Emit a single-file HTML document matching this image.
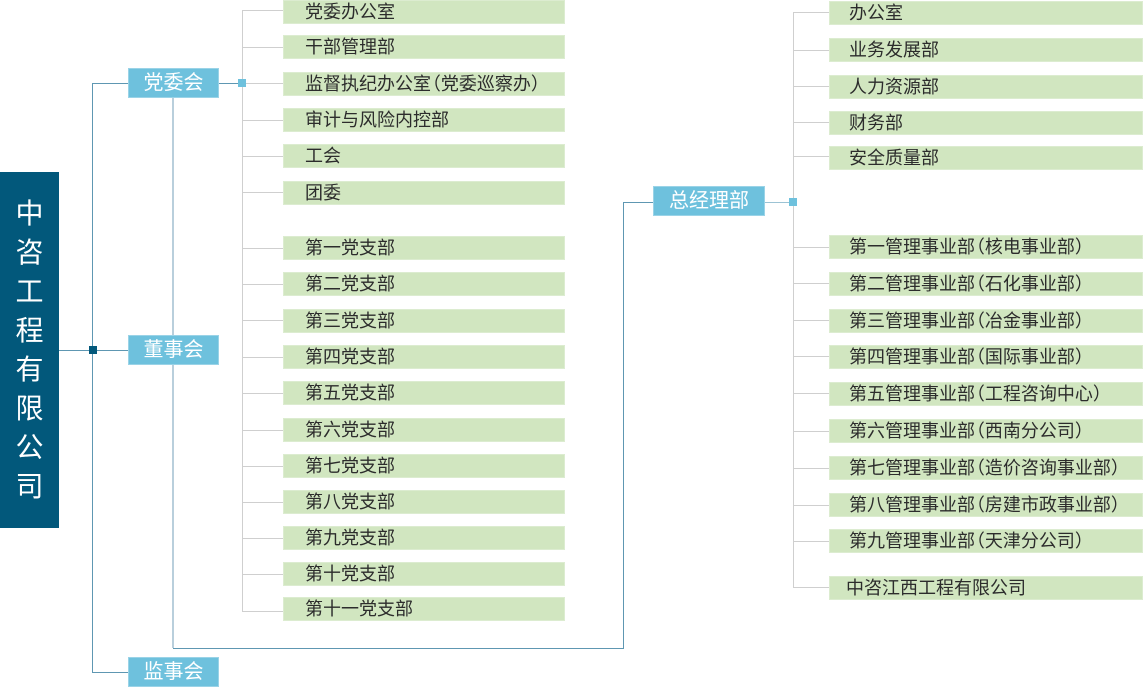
<!DOCTYPE html>
<html><head><meta charset="utf-8">
<style>
html,body{margin:0;padding:0;background:#fff;}
body{width:1143px;height:687px;position:relative;overflow:hidden;font-family:"Liberation Sans","Noto Sans CJK SC",sans-serif;}
.a{position:absolute;}
.root{left:0;top:172px;width:59px;height:356px;background:#02587b;color:#fff;font-size:28px;line-height:39px;text-align:center;}
.root div{height:39px;}
.bb{position:absolute;background:#6ec1dd;border:1px solid #9ad3e7;box-sizing:border-box;color:#fff;font-size:20px;text-align:center;line-height:28px;}
.g{position:absolute;height:24px;background:#d1e6c0;border:1px solid #dcecd0;box-sizing:border-box;color:#2c2c2c;font-size:18px;line-height:22px;white-space:nowrap;}
.m{left:283px;width:282px;padding-left:21px;}
.r{left:829px;width:314px;padding-left:19px;}
.l{position:absolute;}
.gv{background:#cfcfcf;width:1px;}
.gh{background:#cfcfcf;height:1px;}
.tv{background:#5e97b2;width:1px;}
.th{background:#5e97b2;height:1px;}
.pl{margin-left:-0.45em;}
.pr{margin-right:-0.45em;}
</style></head><body>

<!-- connectors -->
<div class="l th" style="left:59px;top:350px;width:69px;"></div>
<div class="l tv" style="left:92px;top:83px;height:590px;"></div>
<div class="l th" style="left:92px;top:83px;width:36px;"></div>
<div class="l th" style="left:92px;top:672px;width:36px;"></div>
<div class="l th" style="left:218px;top:83px;width:24px;"></div>
<div class="l" style="left:172px;top:98px;width:2px;height:550px;background:#b9cfdc;"></div>
<div class="l th" style="left:173px;top:648px;width:451px;"></div>
<div class="l tv" style="left:623px;top:202px;height:447px;"></div>
<div class="l th" style="left:623px;top:202px;width:30px;"></div>
<div class="l th" style="left:765px;top:202px;width:28px;background:#9cc3d4;"></div>

<!-- gray trees -->
<div class="l gv" style="left:242px;top:10px;height:601px;"></div>
<div class="l gv" style="left:793px;top:12px;height:575px;"></div>

<div class="l gh" style="left:242px;top:10px;width:41px;"></div>
<div class="l gh" style="left:242px;top:47px;width:41px;"></div>
<div class="l gh" style="left:242px;top:83px;width:41px;"></div>
<div class="l gh" style="left:242px;top:120px;width:41px;"></div>
<div class="l gh" style="left:242px;top:156px;width:41px;"></div>
<div class="l gh" style="left:242px;top:192px;width:41px;"></div>
<div class="l gh" style="left:242px;top:248px;width:41px;"></div>
<div class="l gh" style="left:242px;top:284px;width:41px;"></div>
<div class="l gh" style="left:242px;top:320px;width:41px;"></div>
<div class="l gh" style="left:242px;top:357px;width:41px;"></div>
<div class="l gh" style="left:242px;top:393px;width:41px;"></div>
<div class="l gh" style="left:242px;top:430px;width:41px;"></div>
<div class="l gh" style="left:242px;top:466px;width:41px;"></div>
<div class="l gh" style="left:242px;top:502px;width:41px;"></div>
<div class="l gh" style="left:242px;top:538px;width:41px;"></div>
<div class="l gh" style="left:242px;top:574px;width:41px;"></div>
<div class="l gh" style="left:242px;top:611px;width:41px;"></div>

<div class="l gh" style="left:793px;top:12px;width:36px;"></div>
<div class="l gh" style="left:793px;top:50px;width:36px;"></div>
<div class="l gh" style="left:793px;top:86px;width:36px;"></div>
<div class="l gh" style="left:793px;top:122px;width:36px;"></div>
<div class="l gh" style="left:793px;top:156px;width:36px;"></div>
<div class="l gh" style="left:793px;top:247px;width:36px;"></div>
<div class="l gh" style="left:793px;top:283px;width:36px;"></div>
<div class="l gh" style="left:793px;top:320px;width:36px;"></div>
<div class="l gh" style="left:793px;top:356px;width:36px;"></div>
<div class="l gh" style="left:793px;top:393px;width:36px;"></div>
<div class="l gh" style="left:793px;top:431px;width:36px;"></div>
<div class="l gh" style="left:793px;top:468px;width:36px;"></div>
<div class="l gh" style="left:793px;top:505px;width:36px;"></div>
<div class="l gh" style="left:793px;top:541px;width:36px;"></div>
<div class="l gh" style="left:793px;top:587px;width:36px;"></div>

<!-- markers -->
<div class="a" style="left:238px;top:79px;width:8px;height:8px;background:#6ec1dd;"></div>
<div class="a" style="left:89px;top:346px;width:8px;height:8px;background:#02587b;"></div>
<div class="a" style="left:789px;top:198px;width:8px;height:8px;background:#6ec1dd;"></div>

<!-- root -->
<div class="a root"><div style="height:22px"></div><div>中</div><div>咨</div><div>工</div><div>程</div><div>有</div><div>限</div><div>公</div><div>司</div></div>

<!-- blue boxes -->
<div class="bb" style="left:128px;top:68px;width:91px;height:30px;">党委会</div>
<div class="bb" style="left:128px;top:335px;width:91px;height:30px;">董事会</div>
<div class="bb" style="left:128px;top:657px;width:91px;height:30px;">监事会</div>
<div class="bb" style="left:653px;top:186px;width:112px;height:30px;">总经理部</div>

<!-- middle green -->
<div class="g m" style="top:0px;">党委办公室</div>
<div class="g m" style="top:35px;">干部管理部</div>
<div class="g m" style="top:71.5px;">监督执纪办公室<span class="pl">（</span>党委巡察办<span class="pr">）</span></div>
<div class="g m" style="top:108px;">审计与风险内控部</div>
<div class="g m" style="top:144px;">工会</div>
<div class="g m" style="top:180.5px;">团委</div>
<div class="g m" style="top:236px;">第一党支部</div>
<div class="g m" style="top:272px;">第二党支部</div>
<div class="g m" style="top:308.5px;">第三党支部</div>
<div class="g m" style="top:345px;">第四党支部</div>
<div class="g m" style="top:381px;">第五党支部</div>
<div class="g m" style="top:418px;">第六党支部</div>
<div class="g m" style="top:454px;">第七党支部</div>
<div class="g m" style="top:490px;">第八党支部</div>
<div class="g m" style="top:526px;">第九党支部</div>
<div class="g m" style="top:561.5px;">第十党支部</div>
<div class="g m" style="top:597px;">第十一党支部</div>

<!-- right green -->
<div class="g r" style="top:1px;">办公室</div>
<div class="g r" style="top:37.5px;">业务发展部</div>
<div class="g r" style="top:74.5px;">人力资源部</div>
<div class="g r" style="top:111px;">财务部</div>
<div class="g r" style="top:146px;">安全质量部</div>
<div class="g r" style="top:235px;">第一管理事业部<span class="pl">（</span>核电事业部<span class="pr">）</span></div>
<div class="g r" style="top:271.5px;">第二管理事业部<span class="pl">（</span>石化事业部<span class="pr">）</span></div>
<div class="g r" style="top:308.5px;">第三管理事业部<span class="pl">（</span>冶金事业部<span class="pr">）</span></div>
<div class="g r" style="top:345px;">第四管理事业部<span class="pl">（</span>国际事业部<span class="pr">）</span></div>
<div class="g r" style="top:382px;">第五管理事业部<span class="pl">（</span>工程咨询中心<span class="pr">）</span></div>
<div class="g r" style="top:419px;">第六管理事业部<span class="pl">（</span>西南分公司<span class="pr">）</span></div>
<div class="g r" style="top:456px;">第七管理事业部<span class="pl">（</span>造价咨询事业部<span class="pr">）</span></div>
<div class="g r" style="top:492.5px;">第八管理事业部<span class="pl">（</span>房建市政事业部<span class="pr">）</span></div>
<div class="g r" style="top:529px;">第九管理事业部<span class="pl">（</span>天津分公司<span class="pr">）</span></div>
<div class="g r" style="top:575.5px;padding-left:16px;">中咨江西工程有限公司</div>

</body></html>
